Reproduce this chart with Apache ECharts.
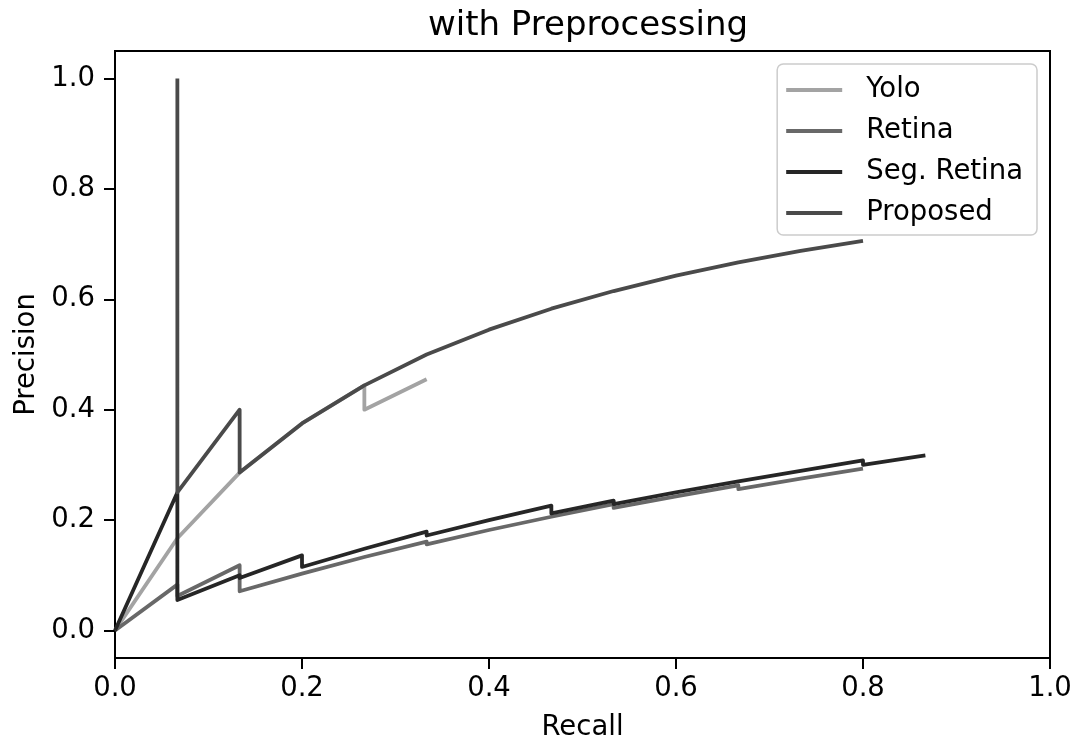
<!DOCTYPE html>
<html>
<head>
<meta charset="utf-8">
<script src="https://cdn.jsdelivr.net/npm/echarts@6/dist/echarts.min.js"></script>
<style>
  html, body { margin: 0; padding: 0; background: #fff; }
  #main { width: 1081px; height: 747px; }
</style>
</head>
<body>
<div id="main"></div>
<script>
// recall / precision
var yoloRecall = [0, 0.0667, 0.1333, 0.2, 0.2667, 0.2667, 0.3333];
var yoloPrecision = [0, 0.167, 0.286, 0.375, 0.444, 0.4, 0.455];

var retinaRecall = [0, 0.0667, 0.0667, 0.1333, 0.1333, 0.2, 0.2667, 0.3333, 0.3333, 0.4, 0.4667,
	0.5333, 0.5333, 0.6, 0.6667, 0.6667, 0.7333, 0.8];
var retinaPrecision = [0, 0.083, 0.0625, 0.118, 0.071, 0.103, 0.133, 0.161, 0.156, 0.182, 0.206,
	0.229, 0.222, 0.243, 0.263, 0.256, 0.275, 0.293];

var segRecall = [0, 0.0667, 0.0667, 0.1333, 0.1333, 0.2, 0.2, 0.2667, 0.3333, 0.3333, 0.4,
	0.4667, 0.4667, 0.5333, 0.5333, 0.6, 0.6667, 0.7333, 0.8, 0.8, 0.8667];
var segPrecision = [0, 0.25, 0.055, 0.1, 0.095, 0.136, 0.115, 0.148, 0.179, 0.172, 0.2,
	0.226, 0.212, 0.235, 0.229, 0.25, 0.27, 0.289, 0.308, 0.3, 0.317];

var propRecall = [0.0667, 0.0667, 0.1333, 0.1333, 0.2, 0.2667, 0.3333, 0.4, 0.4667, 0.5333,
	0.6, 0.6667, 0.7333, 0.8];
var propPrecision = [1.0, 0.25, 0.4, 0.286, 0.375, 0.444, 0.5, 0.545, 0.583, 0.615,
	0.643, 0.667, 0.688, 0.706];

var xTicks = [0, 0.2, 0.4, 0.6, 0.8, 1.0];
var yTicks = [0, 0.2, 0.4, 0.6, 0.8, 1.0];

function pairs(xs, ys) {
	var out = [];
	for (var i = 0; i < xs.length; i++) {
		out.push([xs[i], ys[i]]);
	}
	return out;
}

var font = 'DejaVu Sans';

function lineSeries(name, color, xs, ys) {
	return {
		name : name,
		type : 'line',
		symbol : 'none',
		color : color,
		lineStyle : {
			color : color,
			width : 3.8,
			join : 'round'
		},
		data : pairs(xs, ys)
	};
}

function axisCommon(ticks, margin) {
	return {
		axisLine : {
			show : true,
			onZero : false,
			lineStyle : {
				color : '#000',
				width : 2
			}
		},
		axisTick : {
			show : true,
			length : 11,
			lineStyle : {
				color : '#000',
				width : 2
			},
			customValues : ticks
		},
		axisLabel : {
			fontFamily : font,
			fontSize : 27.5,
			color : '#000',
			margin : margin,
			customValues : ticks,
			formatter : function(v) {
				return v.toFixed(1);
			}
		},
		splitLine : {
			show : false
		}
	};
}

var xAxisOpt = axisCommon(xTicks, 17);
xAxisOpt.type = 'value';
xAxisOpt.min = 0;
xAxisOpt.max = 1;
xAxisOpt.interval = 0.2;
xAxisOpt.name = 'Recall';
xAxisOpt.nameLocation = 'middle';
xAxisOpt.nameGap = 56;
xAxisOpt.nameTextStyle = {
	fontFamily : font,
	fontSize : 27.5,
	color : '#000'
};

var yAxisOpt = axisCommon(yTicks, 20);
yAxisOpt.type = 'value';
yAxisOpt.min = -0.05;
yAxisOpt.max = 1.05;
yAxisOpt.name = 'Precision';
yAxisOpt.nameLocation = 'middle';
yAxisOpt.nameGap = 72;
yAxisOpt.nameTextStyle = {
	fontFamily : font,
	fontSize : 27.5,
	color : '#000'
};

var option = {
	animation : false,
	backgroundColor : '#fff',
	title : {
		text : 'with Preprocessing',
		left : 583,
		textAlign : 'center',
		top : 4,
		textStyle : {
			fontFamily : font,
			fontSize : 34,
			fontWeight : 'normal',
			color : '#000'
		}
	},
	legend : {
		orient : 'vertical',
		right : 44,
		top : 64,
		padding : [ 12, 14, 8, 9 ],
		icon : 'rect',
		itemWidth : 56,
		itemHeight : 4,
		itemGap : 13,
		backgroundColor : '#fff',
		borderColor : '#cccccc',
		borderWidth : 1.5,
		borderRadius : 6,
		textStyle : {
			fontFamily : font,
			fontSize : 27.5,
			color : '#000',
			lineHeight : 28,
			padding : [ 0, 0, 0, 19 ]
		},
		data : [ 'Yolo', 'Retina', 'Seg. Retina', 'Proposed' ]
	},
	grid : {
		left : 115,
		right : 31,
		top : 51,
		bottom : 88,
		show : true,
		borderColor : '#000',
		borderWidth : 2,
		backgroundColor : 'transparent'
	},
	xAxis : xAxisOpt,
	yAxis : yAxisOpt,
	series : [ lineSeries('Yolo', '#a3a3a3', yoloRecall, yoloPrecision),
			lineSeries('Retina', '#686868', retinaRecall, retinaPrecision),
			lineSeries('Seg. Retina', '#262626', segRecall, segPrecision),
			lineSeries('Proposed', '#4a4a4a', propRecall, propPrecision) ]
};

var myChart = echarts.init(document.getElementById('main'));
myChart.setOption(option);
</script>
</body>
</html>
